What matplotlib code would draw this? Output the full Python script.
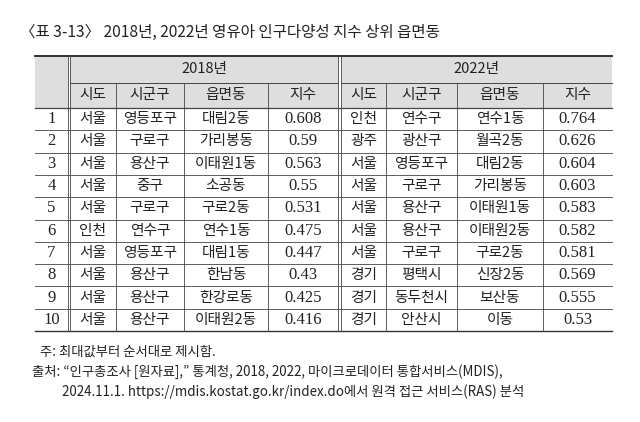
import matplotlib
matplotlib.use("Agg")
import matplotlib.pyplot as plt
from matplotlib.patches import Rectangle

title = "〈표 3-13〉 2018년, 2022년 영유아 인구다양성 지수 상위 읍면동"
years = ["2018년", "2022년"]
sub_headers = ["시도", "시군구", "읍면동", "지수"]
ranks = [1, 2, 3, 4, 5, 6, 7, 8, 9, 10]
sido_2018 = ["서울", "서울", "서울", "서울", "서울", "인천", "서울", "서울", "서울", "서울"]
sigungu_2018 = ["영등포구", "구로구", "용산구", "중구", "구로구", "연수구", "영등포구", "용산구", "용산구", "용산구"]
dong_2018 = ["대림2동", "가리봉동", "이태원1동", "소공동", "구로2동", "연수1동", "대림1동", "한남동", "한강로동", "이태원2동"]
index_2018 = ["0.608", "0.59", "0.563", "0.55", "0.531", "0.475", "0.447", "0.43", "0.425", "0.416"]
sido_2022 = ["인천", "광주", "서울", "서울", "서울", "서울", "서울", "경기", "경기", "경기"]
sigungu_2022 = ["연수구", "광산구", "영등포구", "구로구", "용산구", "용산구", "구로구", "평택시", "동두천시", "안산시"]
dong_2022 = ["연수1동", "월곡2동", "대림2동", "가리봉동", "이태원1동", "이태원2동", "구로2동", "신장2동", "보산동", "이동"]
index_2022 = ["0.764", "0.626", "0.604", "0.603", "0.583", "0.582", "0.581", "0.569", "0.555", "0.53"]
notes = ["주: 최대값부터 순서대로 제시함.",
         "출처: “인구총조사 [원자료],” 통계청, 2018, 2022, 마이크로데이터 통합서비스(MDIS),",
         "2024.11.1. https://mdis.kostat.go.kr/index.do에서 원격 접근 서비스(RAS) 분석"]

KR = "Noto Sans CJK KR"
SERIF = "Liberation Serif"
FS = 10.6

fig = plt.figure(figsize=(6.4, 4.22), dpi=100)
ax = fig.add_axes([0, 0, 1, 1])
ax.set_xlim(0, 640); ax.set_ylim(422, 0); ax.axis("off")

ax.text(20, 32, title, fontfamily=KR, fontsize=11.2, va="center", ha="left", color="#222")

x0, x1 = 35, 612
left_cols = [70, 116, 184, 268, 338]
right_cols = [341, 386, 457, 543, 612]
rank_r = 68
top, h1, h2 = 56, 83, 108
rh = (331 - h2) / 10
gray = "#dedede"
line = "#444"

ax.add_patch(Rectangle((x0, top), rank_r - x0, h2 - top, color=gray, lw=0))
ax.add_patch(Rectangle((left_cols[0], top), left_cols[-1] - left_cols[0], h2 - top, color=gray, lw=0))
ax.add_patch(Rectangle((right_cols[0], top), right_cols[-1] - right_cols[0], h2 - top, color=gray, lw=0))

ax.plot([x0, x1], [top, top], color="#333", lw=1.4)
ax.plot([left_cols[0], left_cols[-1]], [h1, h1], color=line, lw=0.7)
ax.plot([right_cols[0], right_cols[-1]], [h1, h1], color=line, lw=0.7)
ax.plot([x0, x1], [h2, h2], color=line, lw=0.9)
for i in range(1, 10):
    y = h2 + i * rh
    ax.plot([x0, x1], [y, y], color=line, lw=0.6)
ax.plot([x0, x1], [h2 + 10 * rh] * 2, color="#333", lw=1.0)

for xs in (left_cols, right_cols):
    for x in xs[1:-1]:
        ax.plot([x, x], [h1, h2 + 10 * rh], color=line, lw=0.6)
for x in (rank_r, left_cols[0], left_cols[-1], right_cols[0]):
    ax.plot([x, x], [top, h2 + 10 * rh], color=line, lw=0.6)

ax.text((left_cols[0] + left_cols[-1]) / 2, (top + h1) / 2, years[0], fontfamily=KR, fontsize=FS, ha="center", va="center", color="#222")
ax.text((right_cols[0] + right_cols[-1]) / 2, (top + h1) / 2, years[1], fontfamily=KR, fontsize=FS, ha="center", va="center", color="#222")
for cols in (left_cols, right_cols):
    for j, s in enumerate(sub_headers):
        ax.text((cols[j] + cols[j + 1]) / 2, (h1 + h2) / 2, s, fontfamily=KR, fontsize=FS, ha="center", va="center", color="#222")

for i in range(10):
    yc = h2 + (i + 0.5) * rh
    ax.text((x0 + rank_r) / 2, yc, str(ranks[i]), fontfamily=SERIF, fontsize=12, ha="center", va="center", color="#222")
    for cols, vals in ((left_cols, (sido_2018, sigungu_2018, dong_2018)), (right_cols, (sido_2022, sigungu_2022, dong_2022))):
        for j, arr in enumerate(vals):
            ax.text((cols[j] + cols[j + 1]) / 2, yc, arr[i], fontfamily=KR, fontsize=FS, ha="center", va="center", color="#222")
    ax.text((left_cols[3] + left_cols[4]) / 2, yc, index_2018[i], fontfamily=SERIF, fontsize=12, ha="center", va="center", color="#222")
    ax.text((right_cols[3] + right_cols[4]) / 2, yc, index_2022[i], fontfamily=SERIF, fontsize=12, ha="center", va="center", color="#222")

ax.text(40, 352, notes[0], fontfamily=KR, fontsize=9.6, ha="left", va="center", color="#222")
ax.text(32, 372, notes[1], fontfamily=KR, fontsize=9.6, ha="left", va="center", color="#222")
ax.text(62, 392, notes[2], fontfamily=KR, fontsize=9.6, ha="left", va="center", color="#222")

fig.savefig("out.png", dpi=100, facecolor="white")
